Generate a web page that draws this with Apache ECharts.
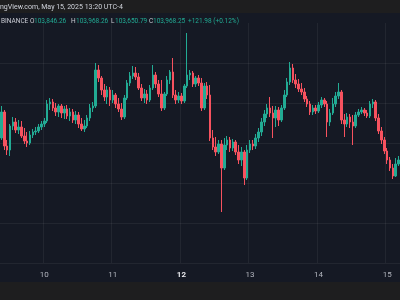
<!DOCTYPE html>
<html>
<head>
	<meta charset="utf-8">
	<title>BTC 1h</title>
	<script src="https://cdn.jsdelivr.net/npm/echarts@6/dist/echarts.min.js"></script>
	<style>html,body{margin:0;padding:0;background:#151924;}</style>
</head>
<body>
	<div id="main" style="width: 400px;height: 300px"></div>
	<script type="text/javascript">
		// hourly candles, first one is May 9 09:00
		var startDay = 9, startHour = 9;
		var opens = [104125,104775,103925,103825,104425,104525,104325,104400,104175,104050,
			104000,104200,104275,104300,104400,104475,104550,104975,105025,104875,
			104775,104925,104750,104850,104675,104775,104575,104700,104475,104350,
			104425,104625,104875,104925,105825,105625,105325,105150,105325,105075,
			105200,104975,104850,104650,105125,105500,105675,105750,105650,105375,
			105125,105225,105075,105375,105700,105475,105225,104875,105225,105575,
			105775,105200,105075,105175,105050,105425,105700,105750,105475,105625,
			105500,104875,105425,105200,104125,103900,103775,103975,103375,103950,
			104075,103875,104025,103775,103575,103775,103125,103825,103975,103925,
			104125,104275,104525,104725,104875,104750,104625,104825,104575,104875,
			105200,105525,105875,105575,105475,105350,105275,105100,104975,104775,
			104875,104800,104950,105075,104975,104525,104750,104975,105175,105275,
			104575,104475,104650,104525,104425,104700,104775,104825,104750,104675,
			104975,105025,104625,104300,104075,103800,103575,103375,103175,103475];
		var closes = [104775,103925,103825,104425,104525,104325,104400,104175,104050,104000,
			104200,104275,104300,104400,104475,104550,104975,105025,104875,104775,
			104925,104750,104850,104675,104775,104575,104700,104475,104350,104425,
			104625,104875,104925,105825,105625,105325,105150,105325,105075,105200,
			104975,104850,104650,105125,105500,105675,105750,105650,105375,105125,
			105225,105075,105375,105700,105475,105225,104875,105225,105575,105775,
			105200,105075,105175,105050,105425,105700,105750,105475,105625,105500,
			104875,105425,105200,104125,103900,103775,103975,103375,103950,104075,
			103875,104025,103775,103575,103775,103125,103825,103975,103925,104125,
			104275,104525,104725,104875,104750,104625,104825,104575,104875,105200,
			105525,105875,105575,105475,105350,105275,105100,104975,104775,104875,
			104800,104950,105075,104975,104525,104750,104975,105175,105275,104575,
			104475,104650,104525,104425,104700,104775,104825,104750,104675,104975,
			105025,104625,104300,104075,103800,103575,103375,103175,103475,103575];
		var lows = [104075,103825,103700,103675,104325,104250,104225,104125,103975,103900,
			103950,104125,104200,104250,104325,104400,104500,104825,104800,104675,
			104650,104625,104600,104600,104550,104500,104475,104375,104300,104275,
			104375,104550,104775,104875,105525,105200,105050,104975,104925,105000,
			104875,104775,104575,104600,105075,105425,105600,105575,105325,105050,
			105000,104975,105025,105325,105375,105150,104800,104825,105175,105475,
			105125,104975,105000,104975,105000,105375,105575,105400,105400,105425,
			104800,104825,105100,104050,103825,103675,103725,102275,103325,103825,
			103775,103800,103700,103475,103425,102950,103075,103750,103825,103850,
			104025,104175,104425,104625,104650,104125,104400,104425,104525,104825,
			105150,105450,105500,105375,105275,105200,105025,104900,104700,104700,
			104725,104750,104875,104900,104150,104425,104700,104900,105100,104475,
			104150,104400,104375,103950,104375,104650,104725,104675,104625,104625,
			104875,104550,104225,103975,103725,103475,103300,103100,103150,103425];
		var highs = [104925,104825,104075,104475,104650,104625,104575,104550,104375,104275,
			104300,104350,104400,104475,104550,104625,105075,105125,105100,105000,
			104975,104975,104925,104950,104875,104850,104800,104775,104625,104575,
			104700,104975,105025,106000,105950,105675,105475,105425,105400,105325,
			105250,105125,105000,105200,105575,105775,105925,105900,105750,105475,
			105350,105325,105450,105950,105775,105575,105575,105275,105675,105825,
			106125,105325,105275,105250,105475,106750,105825,105800,105675,105700,
			105625,105500,105525,105450,104325,104150,104075,104075,104125,104175,
			104150,104100,104075,103950,103900,103825,103950,104075,104075,104225,
			104375,104625,104825,104975,105150,104925,104925,104900,104950,105325,
			105625,106025,105975,105725,105600,105500,105375,105175,105050,104950,
			104950,105025,105150,105125,105050,104850,105125,105275,105500,105325,
			104725,104750,104725,104700,104775,104850,104900,104875,104825,105050,
			105100,105075,104725,104400,104150,103875,103650,103475,103625,103675];
		var gridLevels = [101000, 107000, 1000];	// y min, y max, step

		var UP = '#22ab94', DOWN = '#f7525f';

		var categories = [];
		var table = [];
		for (var i = 0; i < closes.length; i++) {
			var h = startHour + i;
			categories.push((startDay + Math.floor(h / 24)) + ' ' + (h % 24) + ':00');
			table.push([opens[i], closes[i], lows[i], highs[i]]);
		}
		var isMidnight = function (index, value) {
			return categories[index].split(' ')[1] === '0:00';
		};

		var myChart = echarts.init(document.getElementById('main'));
		var txt = '6.5px Roboto';
		var option = {
			animation: false,
			backgroundColor: '#151924',
			grid: {left: 0, right: 0, top: 23, bottom: 37},
			xAxis: {
				type: 'category',
				data: categories,
				axisLine: {show: false},
				axisTick: {show: false},
				axisLabel: {
					interval: isMidnight,
					margin: 8,
					color: '#b2b5be',
					fontSize: 8,
					fontFamily: 'Roboto',
					formatter: function (v) {
						var d = v.split(' ')[0];
						return d === '12' ? '{b|' + d + '}' : d;
					},
					rich: {b: {color: '#e8e9ed', fontWeight: 'bold', fontSize: 8, fontFamily: 'Roboto'}}
				},
				splitLine: {
					show: true,
					interval: isMidnight,
					lineStyle: {color: 'rgba(255,255,255,0.06)', width: 1}
				}
			},
			yAxis: {
				type: 'value',
				min: gridLevels[0],
				max: gridLevels[1],
				interval: gridLevels[2],
				axisLine: {show: false},
				axisTick: {show: false},
				axisLabel: {show: false},
				splitLine: {showMaxLine: false, lineStyle: {color: 'rgba(255,255,255,0.06)', width: 1}}
			},
			series: [{
				type: 'candlestick',
				data: table,
				barWidth: 2,
				itemStyle: {color: UP, color0: DOWN, borderColor: UP, borderColor0: DOWN, borderWidth: 1}
			}],
			graphic: [
				{type: 'rect', shape: {x: 0, y: 0, width: 400, height: 13}, style: {fill: '#1e1e1f'}, z: 10},
				{type: 'rect', shape: {x: 0, y: 282, width: 400, height: 18}, style: {fill: '#1e1e1f'}, z: 10},
				{type: 'text', z: 11, style: {x: 0, y: 7, text: 'ngView.com, May 15, 2025 13:20 UTC-4', fill: '#d1d4dc', font: '7px Roboto', verticalAlign: 'middle'}},
				{type: 'text', z: 11, style: {x: 1, y: 21, text: 'BINANCE', fill: '#c8cad2', font: txt, verticalAlign: 'middle'}},
				{type: 'text', z: 11, style: {x: 30, y: 21, text: 'O', fill: '#c8cad2', font: txt, verticalAlign: 'middle'}},
				{type: 'text', z: 11, style: {x: 34, y: 21, text: '103,846.26', fill: UP, font: txt, verticalAlign: 'middle'}},
				{type: 'text', z: 11, style: {x: 71, y: 21, text: 'H', fill: '#c8cad2', font: txt, verticalAlign: 'middle'}},
				{type: 'text', z: 11, style: {x: 76, y: 21, text: '103,968.26', fill: UP, font: txt, verticalAlign: 'middle'}},
				{type: 'text', z: 11, style: {x: 111, y: 21, text: 'L', fill: '#c8cad2', font: txt, verticalAlign: 'middle'}},
				{type: 'text', z: 11, style: {x: 115, y: 21, text: '103,650.79', fill: UP, font: txt, verticalAlign: 'middle'}},
				{type: 'text', z: 11, style: {x: 149, y: 21, text: 'C', fill: '#c8cad2', font: txt, verticalAlign: 'middle'}},
				{type: 'text', z: 11, style: {x: 153, y: 21, text: '103,968.25', fill: UP, font: txt, verticalAlign: 'middle'}},
				{type: 'text', z: 11, style: {x: 188, y: 21, text: '+121.98 (+0.12%)', fill: UP, font: txt, verticalAlign: 'middle'}}
			]
		};
		myChart.setOption(option);
	</script>
</body>
</html>
